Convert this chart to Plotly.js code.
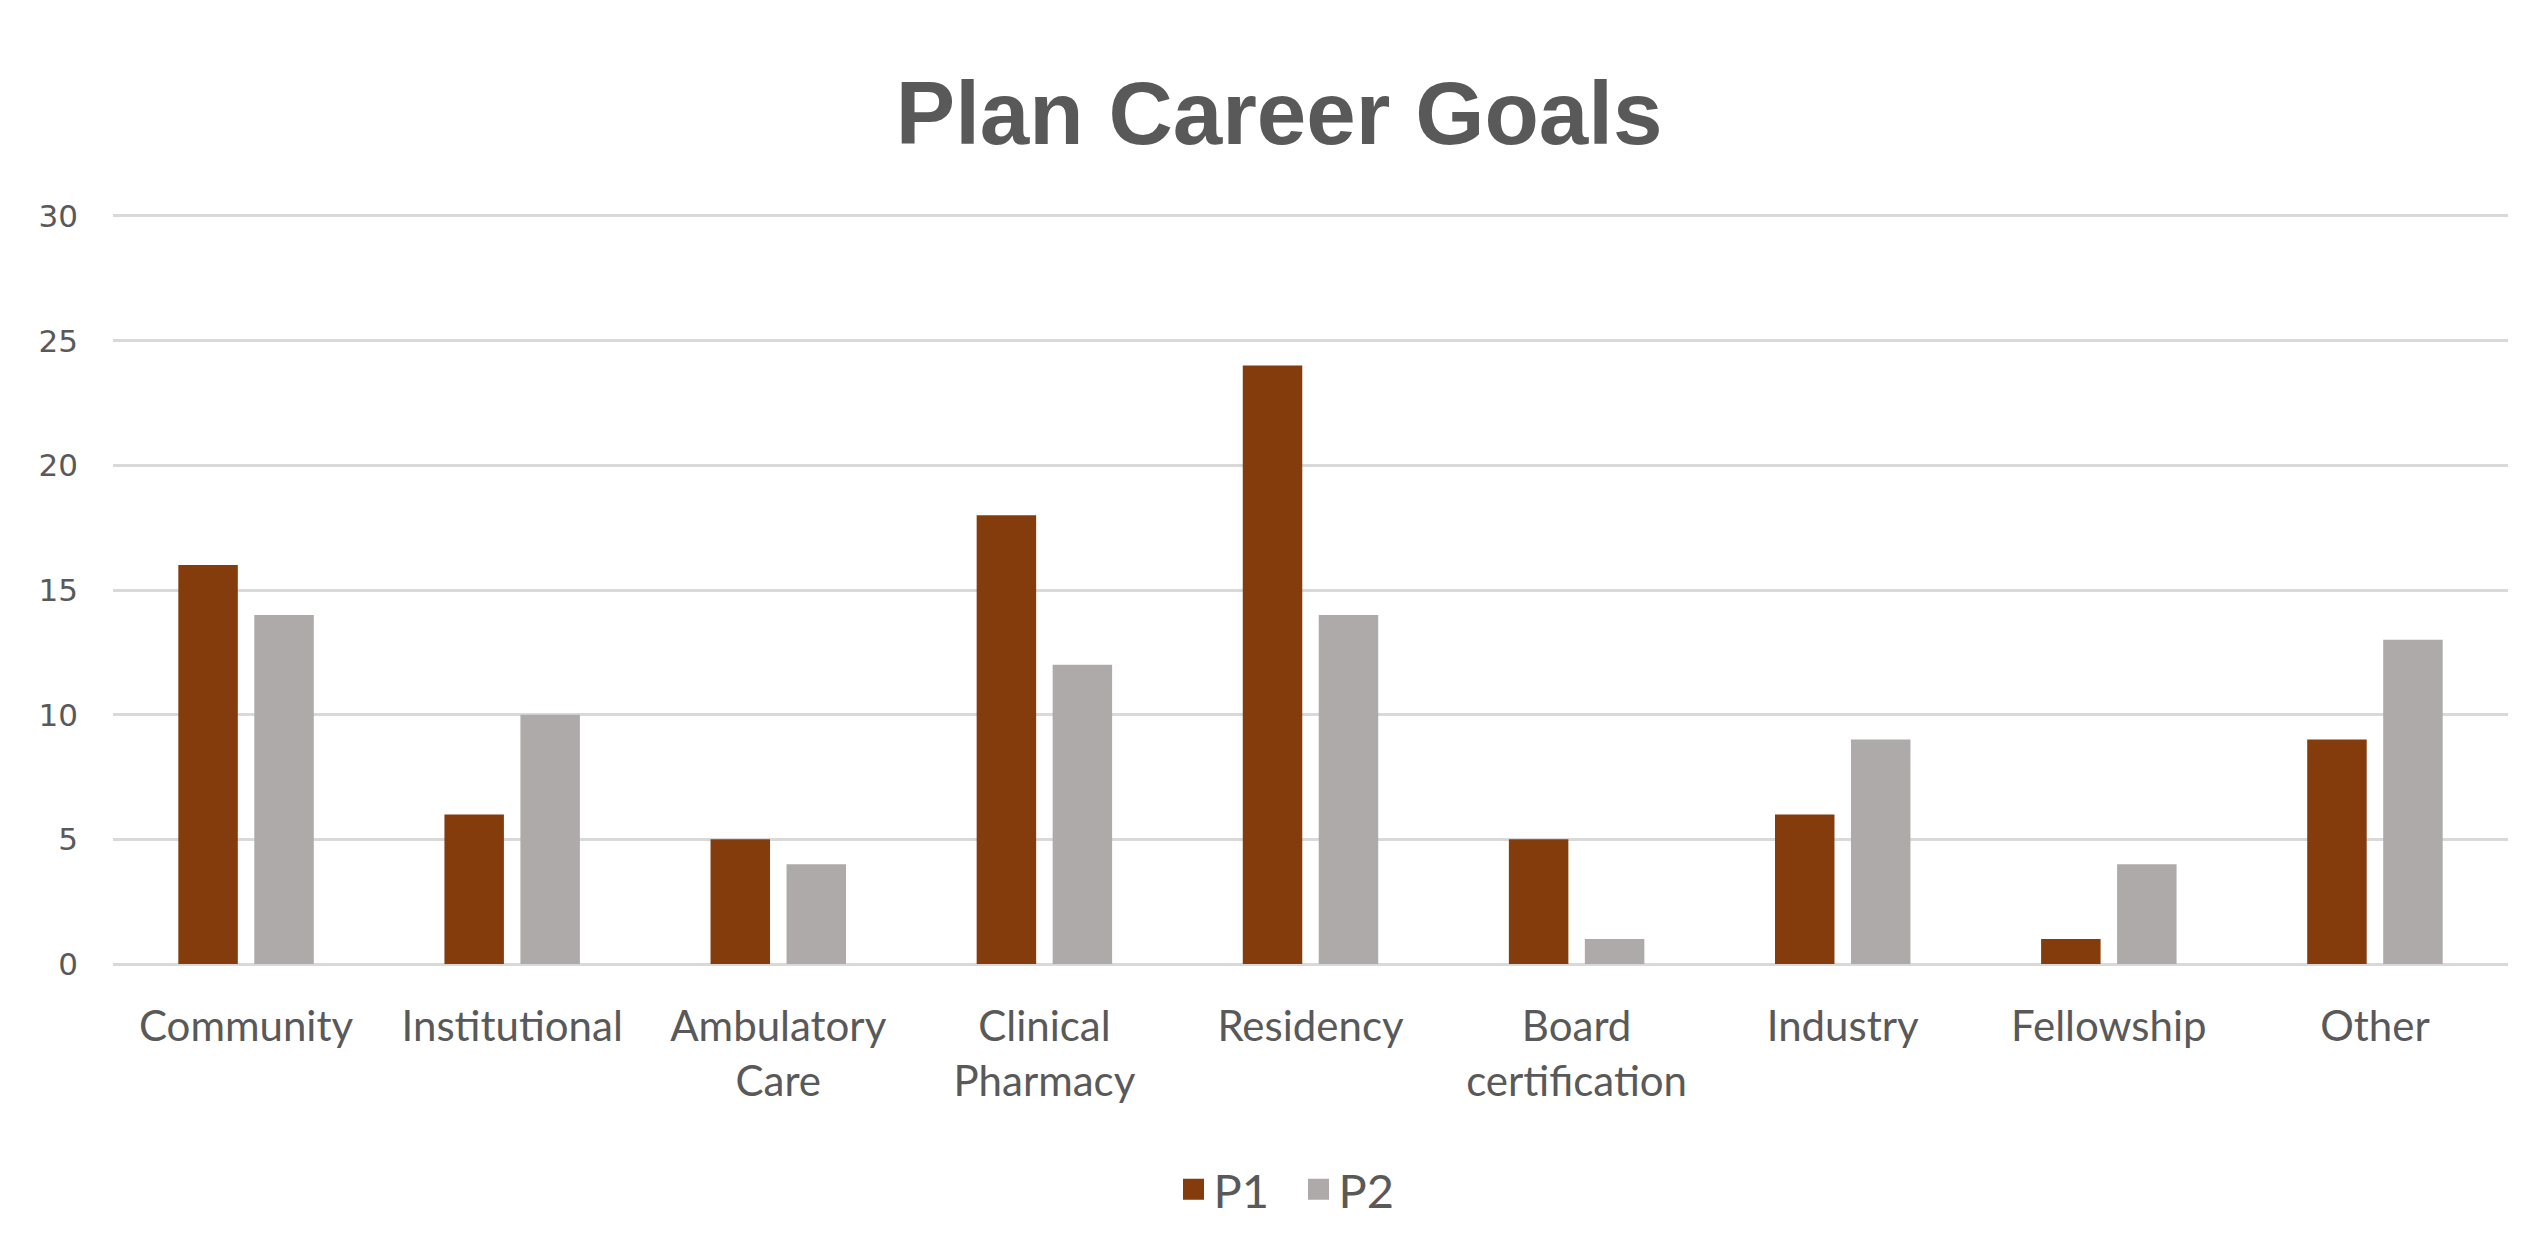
<!DOCTYPE html>
<html>
<head>
<meta charset="utf-8">
<script src="https://cdn.plot.ly/plotly-3.0.1.min.js"></script>
<style>html,body{margin:0;padding:0;background:#fff;}#chart{width:2528px;height:1250px;}</style>
</head>
<body>
<div id="chart"></div>
<script>
const categories = ["Community", "Institutional", "Ambulatory Care", "Clinical Pharmacy", "Residency", "Board certification", "Industry", "Fellowship", "Other"];
const tickLabels = ["Community", "Institutional", "Ambulatory<br>Care", "Clinical<br>Pharmacy", "Residency", "Board<br>certification", "Industry", "Fellowship", "Other"];
const p1Values = [16, 6, 5, 18, 24, 5, 6, 1, 9];
const p2Values = [14, 10, 4, 12, 14, 1, 9, 4, 13];
const yTicks = [0, 5, 10, 15, 20, 25, 30];
const seriesNames = ["P1", "P2"];
const seriesColors = ["#843C0C", "#AEAAAA"];

const traces = [
  {type: "bar", name: seriesNames[0], legendgroup: "p1", showlegend: false, x: categories, y: p1Values, marker: {color: seriesColors[0]}},
  {type: "bar", name: seriesNames[1], legendgroup: "p2", showlegend: false, x: categories, y: p2Values, marker: {color: seriesColors[1]}},
  // legend-only entries (larger square swatches, like the reference legend)
  {type: "scatter", mode: "markers", name: seriesNames[0], legendgroup: "p1", x: [categories[0]], y: [null],
   marker: {symbol: "square", size: 16, color: seriesColors[0], line: {color: seriesColors[0], width: 5}}, hoverinfo: "skip"},
  {type: "scatter", mode: "markers", name: seriesNames[1], legendgroup: "p2", x: [categories[0]], y: [null],
   marker: {symbol: "square", size: 16, color: seriesColors[1], line: {color: seriesColors[1], width: 5}}, hoverinfo: "skip"}
];

const layout = {
  width: 2528, height: 1250,
  paper_bgcolor: "#ffffff", plot_bgcolor: "#ffffff",
  margin: {l: 113, r: 20, t: 214, b: 286},
  title: {text: "<b>Plan Career Goals</b>", x: 0.506, xref: "container", xanchor: "center",
          y: 0.91, yref: "container", yanchor: "middle",
          font: {family: "Liberation Sans, Arial, sans-serif", size: 89, color: "#595959"}},
  barmode: "group", bargap: 0.429, bargroupgap: 0.217,
  xaxis: {type: "category", tickvals: categories, ticktext: tickLabels,
          showgrid: false, zeroline: false, showline: false, ticks: "",
          ticklabelstandoff: 34,
          tickfont: {family: "Lato, sans-serif", size: 42, color: "#595959"}},
  yaxis: {range: [0, 30.08], tickvals: yTicks, ticktext: yTicks.map(String),
          showgrid: true, gridcolor: "#D9D9D9", gridwidth: 3,
          zeroline: true, zerolinecolor: "#D9D9D9", zerolinewidth: 3,
          showline: false, ticks: "", ticklabelstandoff: 34,
          tickfont: {family: "DejaVu Sans, sans-serif", size: 31, color: "#595959"}},
  showlegend: true,
  legend: {orientation: "h", x: 0.495, xanchor: "center", y: -0.301, yanchor: "middle",
           font: {family: "Lato, sans-serif", size: 47, color: "#595959"},
           itemsizing: "trace", itemwidth: 30, entrywidth: 80, traceorder: "normal"}
};

Plotly.newPlot("chart", traces, layout, {displayModeBar: false, staticPlot: true});
</script>
</body>
</html>
